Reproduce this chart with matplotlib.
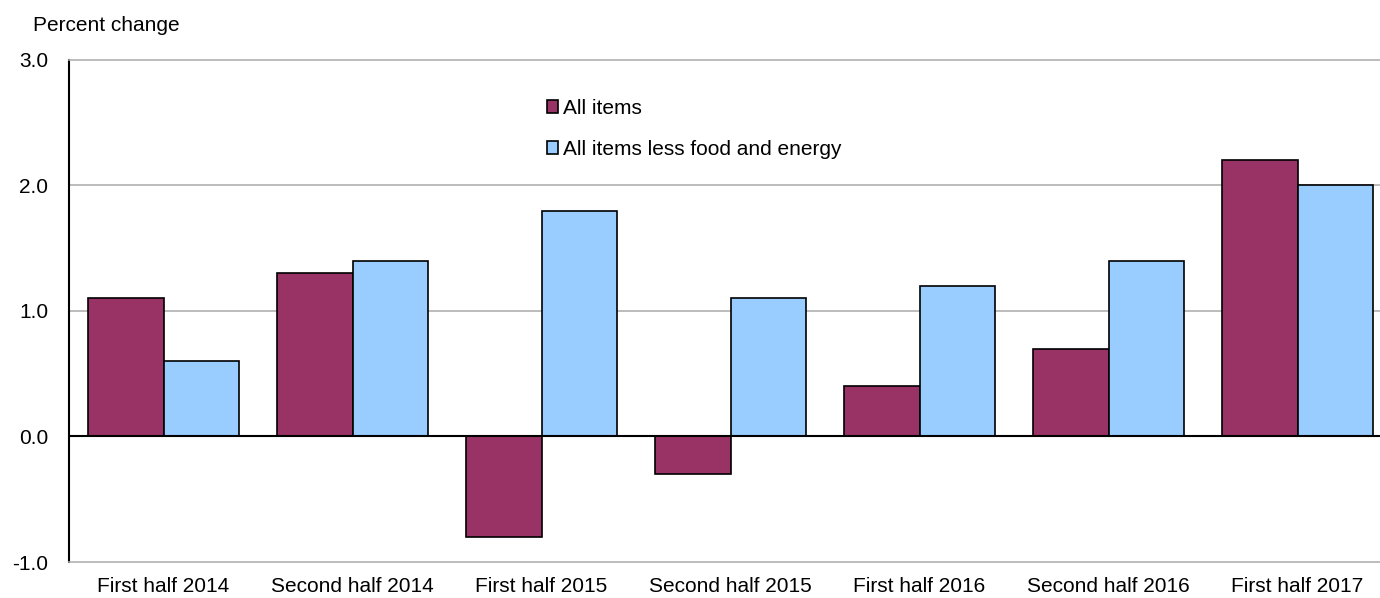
import numpy as np
import matplotlib
matplotlib.use("Agg")
import matplotlib.pyplot as plt

periods = ["First half 2014", "Second half 2014", "First half 2015", "Second half 2015",
           "First half 2016", "Second half 2016", "First half 2017"]
all_items = [1.1, 1.3, -0.8, -0.3, 0.4, 0.7, 2.2]
core_items = [0.6, 1.4, 1.8, 1.1, 1.2, 1.4, 2.0]
series_names = ["All items", "All items less food and energy"]
y_ticks = [-1.0, 0.0, 1.0, 2.0, 3.0]

plt.rcParams["font.family"] = ["Liberation Sans", "DejaVu Sans"]
fs = 15

fig = plt.figure(figsize=(13.8, 5.98), dpi=100)
ax = fig.add_axes([0.05, 0.0602, 0.9587, 0.8395])

x = np.arange(len(periods))
w = 0.40
ax.bar(x - w / 2, all_items, w, color="#993366", edgecolor="black", linewidth=1.2,
       label=series_names[0], zorder=3)
ax.bar(x + w / 2, core_items, w, color="#99CCFF", edgecolor="black", linewidth=1.2,
       label=series_names[1], zorder=3)

ax.set_xlim(-0.5, len(periods) - 0.5)
ax.set_ylim(-1.0, 3.0)
ax.set_yticks(y_ticks)
ax.set_yticklabels([f"{v:.1f}" for v in y_ticks], fontsize=fs)
ax.set_xticks(x)
ax.set_xticklabels(periods, fontsize=fs)
ax.tick_params(axis="both", length=0)
ax.tick_params(axis="y", pad=15)
ax.tick_params(axis="x", pad=11)

for v in [1.0, 2.0]:
    ax.axhline(v, color="#b0b0b0", linewidth=1.2, zorder=1)
ax.axhline(0, color="black", linewidth=1.5, zorder=4)

for side in ["top", "bottom"]:
    ax.spines[side].set_color("#b0b0b0")
    ax.spines[side].set_linewidth(1.2)
ax.spines["right"].set_visible(False)
ax.spines["left"].set_color("black")
ax.spines["left"].set_linewidth(1.5)

ax.legend(loc="upper left", bbox_to_anchor=(0.347, 0.96), frameon=False,
          fontsize=fs, handlelength=0.55, handleheight=0.55, handletextpad=0.25,
          labelspacing=1.05)

fig.text(0.024, 0.958, "Percent change", fontsize=fs, va="center", ha="left")

fig.savefig("out.png", dpi=100)
